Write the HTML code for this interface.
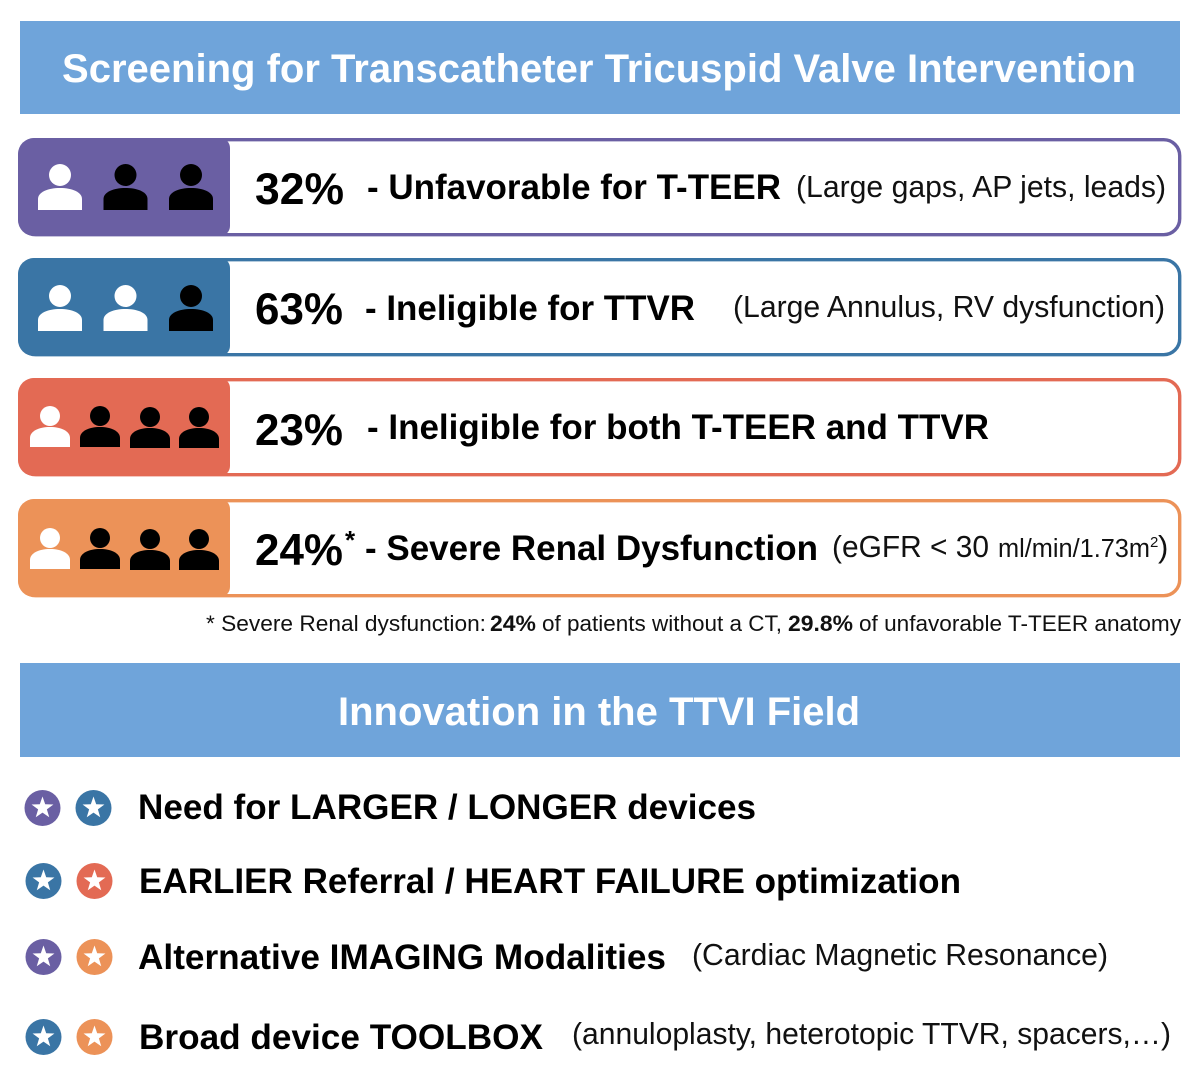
<!DOCTYPE html>
<html lang="en">
<head>
<meta charset="utf-8">
<title>Screening for Transcatheter Tricuspid Valve Intervention</title>
<style>
html,body{margin:0;padding:0;background:#fff}
svg{display:block;font-family:"Liberation Sans",Arial,sans-serif}
.pct{font-size:44.5px;font-weight:700;fill:#000}
.lbl{font-size:35px;font-weight:700;fill:#000}
.note{font-size:31px;fill:#111}
.hdr{font-weight:700;fill:#fff;font-size:40px}
.foot{font-size:22.5px;fill:#111}
</style>
</head>
<body>
<svg xmlns="http://www.w3.org/2000/svg" width="1200" height="1079" viewBox="0 0 1200 1079">
<defs>
<g id="person"><circle cx="0" cy="0" r="11"/><path d="M-22 35V24C-22 17-12 13 0 13C12 13 22 17 22 24V35Z"/></g>
<g id="person-sm"><circle cx="0" cy="0" r="10"/><path d="M-20 31V22C-20 15-11 11 0 11C11 11 20 15 20 22V31Z"/></g>
<polygon id="star" fill="#fff" points="0,-11.5 2.7,-3.72 10.94,-3.55 4.37,1.42 6.76,9.3 0,4.6 -6.76,9.3 -4.37,1.42 -10.94,-3.55 -2.7,-3.72"/>
</defs>

<rect x="0" y="0" width="1200" height="1079" fill="#fff"/>

<g>
<rect x="20" y="21" width="1160" height="93" fill="#6fa4da"/>
<text class="hdr" x="62" y="82" textLength="1074" lengthAdjust="spacingAndGlyphs">Screening for Transcatheter Tricuspid Valve Intervention</text>
</g>

<g>
<rect x="19.7" y="139.7" width="1160" height="95" rx="16" fill="#fff" stroke="#6a5fa3" stroke-width="3.4"/>
<path d="M34 138H220a10 10 0 0 1 10 10V226a10 10 0 0 1-10 10H34a16 16 0 0 1-16-16V154a16 16 0 0 1 16-16Z" fill="#6a5fa3"/>
<use href="#person" x="60" y="175" fill="#fff"/>
<use href="#person" x="125.500" y="175" fill="#000"/>
<use href="#person" x="191" y="175" fill="#000"/>
<text class="pct" x="255" y="204" textLength="89" lengthAdjust="spacingAndGlyphs">32%</text>
<text class="lbl" x="367" y="199" textLength="414" lengthAdjust="spacingAndGlyphs">- Unfavorable for T-TEER</text>
<text class="note" x="796" y="197" textLength="370" lengthAdjust="spacingAndGlyphs">(Large gaps, AP jets, leads)</text>
</g>

<g>
<rect x="19.7" y="259.700" width="1160" height="95" rx="16" fill="#fff" stroke="#3a75a5" stroke-width="3.4"/>
<path d="M34 258H220a10 10 0 0 1 10 10V346a10 10 0 0 1-10 10H34a16 16 0 0 1-16-16V274a16 16 0 0 1 16-16Z" fill="#3a75a5"/>
<use href="#person" x="60" y="296" fill="#fff"/>
<use href="#person" x="125.500" y="296" fill="#fff"/>
<use href="#person" x="191" y="296" fill="#000"/>
<text class="pct" x="255" y="324" textLength="88" lengthAdjust="spacingAndGlyphs">63%</text>
<text class="lbl" x="365" y="320" textLength="330" lengthAdjust="spacingAndGlyphs">- Ineligible for TTVR</text>
<text class="note" x="733" y="317" textLength="432" lengthAdjust="spacingAndGlyphs">(Large Annulus, RV dysfunction)</text>
</g>

<g>
<rect x="19.7" y="379.700" width="1160" height="95" rx="16" fill="#fff" stroke="#e36a54" stroke-width="3.4"/>
<path d="M34 378H220a10 10 0 0 1 10 10V466a10 10 0 0 1-10 10H34a16 16 0 0 1-16-16V394a16 16 0 0 1 16-16Z" fill="#e36a54"/>
<use href="#person-sm" x="50" y="416" fill="#fff"/>
<use href="#person-sm" x="100" y="416" fill="#000"/>
<use href="#person-sm" x="150" y="417" fill="#000"/>
<use href="#person-sm" x="199" y="417" fill="#000"/>
<text class="pct" x="255" y="445" textLength="88" lengthAdjust="spacingAndGlyphs">23%</text>
<text class="lbl" x="367" y="439" textLength="622" lengthAdjust="spacingAndGlyphs">- Ineligible for both T-TEER and TTVR</text>
</g>

<g>
<rect x="19.7" y="500.700" width="1160" height="95" rx="16" fill="#fff" stroke="#ec9258" stroke-width="3.4"/>
<path d="M34 499H220a10 10 0 0 1 10 10V587a10 10 0 0 1-10 10H34a16 16 0 0 1-16-16V515a16 16 0 0 1 16-16Z" fill="#ec9258"/>
<use href="#person-sm" x="50" y="538" fill="#fff"/>
<use href="#person-sm" x="100" y="538" fill="#000"/>
<use href="#person-sm" x="150" y="539" fill="#000"/>
<use href="#person-sm" x="199" y="539" fill="#000"/>
<text class="pct" x="255" y="565" textLength="88" lengthAdjust="spacingAndGlyphs">24%</text>
<text x="345" y="549" font-size="26" font-weight="700" fill="#000">*</text>
<text class="lbl" x="365" y="560" textLength="453" lengthAdjust="spacingAndGlyphs">- Severe Renal Dysfunction</text>
<text class="note" x="832" y="557" textLength="157" lengthAdjust="spacingAndGlyphs">(eGFR &lt; 30</text>
<text x="998" y="557" font-size="25.5" fill="#111" textLength="152" lengthAdjust="spacingAndGlyphs">ml/min/1.73m</text>
<text x="1150" y="547" font-size="15" fill="#111">2</text>
<text class="note" x="1158" y="557">)</text>
</g>

<g>
<text class="foot" x="206" y="631" textLength="280" lengthAdjust="spacingAndGlyphs">* Severe Renal dysfunction:</text>
<text class="foot" x="490" y="631" font-weight="700" textLength="46" lengthAdjust="spacingAndGlyphs">24%</text>
<text class="foot" x="542" y="631" textLength="240" lengthAdjust="spacingAndGlyphs">of patients without a CT,</text>
<text class="foot" x="788" y="631" font-weight="700" textLength="65" lengthAdjust="spacingAndGlyphs">29.8%</text>
<text class="foot" x="859" y="631" textLength="322" lengthAdjust="spacingAndGlyphs">of unfavorable T-TEER anatomy</text>
</g>

<g>
<rect x="20" y="663" width="1160" height="94" fill="#6fa4da"/>
<text class="hdr" x="338" y="725" textLength="522" lengthAdjust="spacingAndGlyphs">Innovation in the TTVI Field</text>
</g>

<g>
<circle cx="42.500" cy="808" r="18" fill="#6a5fa3"/>
<use href="#star" x="42.500" y="808"/>
<circle cx="93.500" cy="808" r="18" fill="#3a75a5"/>
<use href="#star" x="93.500" y="808"/>
<text class="lbl" x="138" y="819" textLength="618" lengthAdjust="spacingAndGlyphs">Need for LARGER / LONGER devices</text>
</g>

<g>
<circle cx="43.500" cy="881" r="18" fill="#3a75a5"/>
<use href="#star" x="43.500" y="881"/>
<circle cx="94.500" cy="881" r="18" fill="#e36a54"/>
<use href="#star" x="94.500" y="881"/>
<text class="lbl" x="139" y="893" textLength="822" lengthAdjust="spacingAndGlyphs">EARLIER Referral / HEART FAILURE optimization</text>
</g>

<g>
<circle cx="43.500" cy="957" r="18" fill="#6a5fa3"/>
<use href="#star" x="43.500" y="957"/>
<circle cx="94.500" cy="957" r="18" fill="#ec9258"/>
<use href="#star" x="94.500" y="957"/>
<text class="lbl" x="138" y="969" textLength="528" lengthAdjust="spacingAndGlyphs">Alternative IMAGING Modalities</text>
<text class="note" x="692" y="965" textLength="416" lengthAdjust="spacingAndGlyphs">(Cardiac Magnetic Resonance)</text>
</g>

<g>
<circle cx="43.500" cy="1037" r="18" fill="#3a75a5"/>
<use href="#star" x="43.500" y="1037"/>
<circle cx="94.500" cy="1037" r="18" fill="#ec9258"/>
<use href="#star" x="94.500" y="1037"/>
<text class="lbl" x="139" y="1049" textLength="404" lengthAdjust="spacingAndGlyphs">Broad device TOOLBOX</text>
<text class="note" x="572" y="1044" textLength="599" lengthAdjust="spacingAndGlyphs">(annuloplasty, heterotopic TTVR, spacers,…)</text>
</g>
</svg>
</body>
</html>
